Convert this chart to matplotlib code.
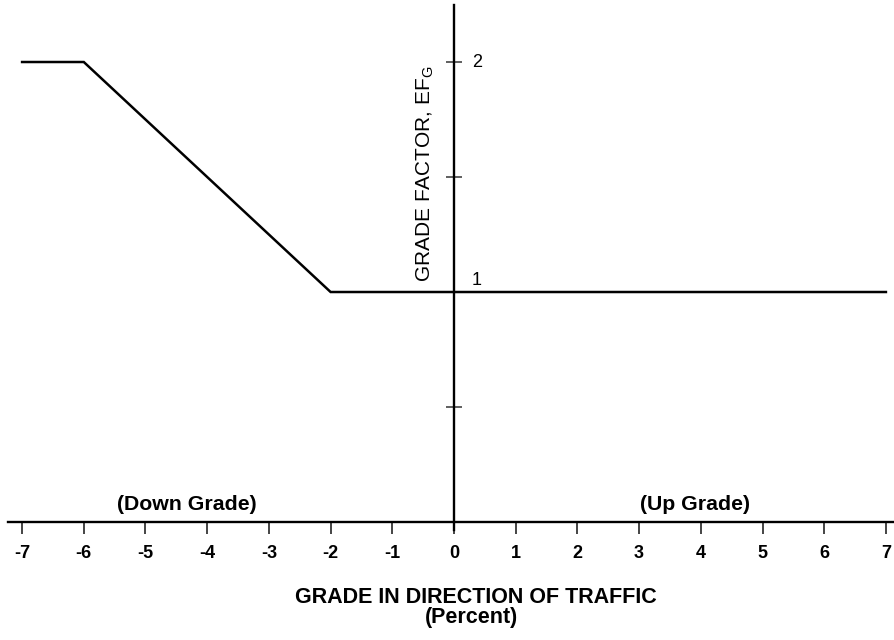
import matplotlib
matplotlib.use("Agg")
import matplotlib.pyplot as plt

# grade (percent) vs grade factor EF_G
grade = [-7, -6, -2, 7]
factor = [2, 2, 1, 1]

x_ticks = [-7, -6, -5, -4, -3, -2, -1, 0, 1, 2, 3, 4, 5, 6, 7]
y_ticks = [0.5, 1, 1.5, 2]
y_labels = {1: "1", 2: "2"}

plt.rcParams['font.family'] = ['Liberation Sans', 'DejaVu Sans']

fig = plt.figure(figsize=(8.94, 6.4), dpi=100)
ax = fig.add_axes([0, 0, 1, 1])
ax.set_xlim(-7.358, 7.131)
ax.set_ylim(-0.513, 2.2696)

ax.plot(grade, factor, color='black', lw=1.8, solid_joinstyle='miter')

# axes crossing at the origin
for s in ['top', 'right']:
    ax.spines[s].set_visible(False)
ax.spines['left'].set_position(('data', 0))
ax.spines['bottom'].set_position(('data', 0))
ax.spines['left'].set_bounds(-0.035, 2.25)
ax.spines['bottom'].set_bounds(-7.23, 7.2)
ax.spines['left'].set_linewidth(1.7)
ax.spines['bottom'].set_linewidth(1.7)

ax.set_xticks(x_ticks)
ax.set_xticklabels([str(v) for v in x_ticks], fontweight='bold', fontsize=13)
ax.tick_params(axis='x', direction='out', length=8.5, width=1.4, pad=8,
               color='#444444', labelcolor='black')

ax.set_yticks(y_ticks)
ax.set_yticklabels([])
ax.tick_params(axis='y', direction='inout', length=12, width=1.2, color='#444444')
for v, t in y_labels.items():
    ax.text(0.37, v + (0.048 if v == 1 else -0.004), t, fontsize=13,
            ha='center', va='center')

ax.text(-0.47, 1.513, r'GRADE FACTOR, EF$_\mathregular{G}$', rotation=90,
        fontsize=15, ha='center', va='center')

ax.text(-4.33, 0.078, '(Down Grade)', fontweight='bold', fontsize=15.3, ha='center', va='center')
ax.text(3.90, 0.078, '(Up Grade)', fontweight='bold', fontsize=15.3, ha='center', va='center')

ax.text(0.35, -0.328, 'GRADE IN DIRECTION OF TRAFFIC', fontweight='bold', fontsize=15.5,
        ha='center', va='center')
ax.text(0.28, -0.417, '(Percent)', fontweight='bold', fontsize=15.5, ha='center', va='center')

fig.savefig('out.png', dpi=100)
